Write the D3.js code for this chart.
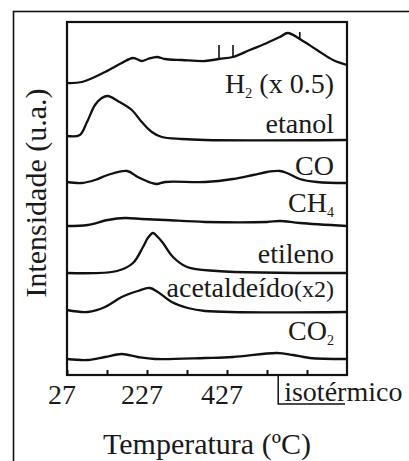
<!DOCTYPE html>
<html>
<head>
<meta charset="utf-8">
<script src="https://cdn.jsdelivr.net/npm/d3@7"></script>
<style>
  body { margin: 0; background: #fff; }
</style>
</head>
<body>
<svg id="chart" width="409" height="461"></svg>
<script>
// temperatures (°C) and relative intensities (u.a.)
var h2 = [[27,0],[64,1],[122,11],[164,20],[192,25],[214,22],[229,24],[252,26],[272,24],[314,23],[372,22],
  [407,24],[442,26],[484,33],[527,40],[559,46],[579,50],[609,44],[652,33],[692,23],[727,18]];
var h2Marks = [[407,24,38],[442,26,38],[609,44,51]];
var etanol = [[27,4],[59,5],[77,18],[97,35],[114,42],[129,44],[154,39],[189,30],[214,18],[239,8],[264,3],[314,1],[372,0],[727,0]];
var co = [[27,1],[64,0],[97,3],[129,8],[177,12],[204,6],[239,0],[252,-1],[272,1],[372,1],[442,4],[492,8],[527,11],[559,12],[577,10],[609,4],[652,1],[727,0]];
var ch4 = [[27,0],[79,1],[129,6],[172,8],[214,7],[272,6],[372,4],[527,4],[559,5],[609,3],[727,0]];
var etileno = [[27,0],[152,2],[192,10],[217,26],[229,35],[242,40],[254,36],[267,30],[292,16],[327,6],[402,2],[727,0]];
var acetaldeido = [[27,1],[79,-1],[122,4],[164,14],[204,20],[234,23],[254,19],[289,9],[329,3],[372,0],[727,-1]];
var co2 = [[27,0],[79,-1],[122,2],[164,5],[204,2],[247,0],[372,1],[442,2],[552,6],[592,4],[634,1],[727,0]];

var seriesNames = ["H2", "etanol", "CO", "CH4", "etileno", "acetaldeido", "CO2"];
var seriesData = [h2, etanol, co, ch4, etileno, acetaldeido, co2];
var seriesOffsets = [292, 235, 192, 149, 102, 64, 16];
var tickValues = [27, 127, 227, 327, 427, 527, 627];
var tickLabels = [27, 227, 427];
var isothermStart = 555;

var serif = '"Liberation Serif", "Times New Roman", serif';

var svg = d3.select('#chart');

var plot = {left: 67, right: 347, top: 22, bottom: 375};

var x = d3.scaleLinear().domain([27, 727]).range([plot.left, plot.right]);
var y = d3.scaleLinear().domain([0, 353]).range([plot.bottom, plot.top]);

// outer frame (runs off the page right and bottom)
svg.append('rect')
  .attr('x', 13.5).attr('y', 11.5)
  .attr('width', 420).attr('height', 480)
  .attr('fill', 'none').attr('stroke', '#111').attr('stroke-width', 1.6);

// traces
var line = d3.line().curve(d3.curveCatmullRom.alpha(0.5));
seriesData.forEach(function(s, i) {
  var off = seriesOffsets[i];
  svg.append('path')
    .attr('class', 'trace ' + seriesNames[i])
    .attr('d', line(s.map(function(d) { return [x(d[0]), y(off + d[1])]; })))
    .attr('fill', 'none')
    .attr('stroke', '#111')
    .attr('stroke-width', 2.3);
});

// small vertical marks on the H2 trace
svg.selectAll('line.mark')
  .data(h2Marks)
  .enter().append('line')
  .attr('class', 'mark')
  .attr('x1', function(d) { return x(d[0]); })
  .attr('x2', function(d) { return x(d[0]); })
  .attr('y1', function(d) { return y(seriesOffsets[0] + d[1]); })
  .attr('y2', function(d) { return y(seriesOffsets[0] + d[2]); })
  .attr('stroke', '#111').attr('stroke-width', 1.6);

// plot box
svg.append('rect')
  .attr('x', plot.left).attr('y', plot.top)
  .attr('width', plot.right - plot.left).attr('height', plot.bottom - plot.top)
  .attr('fill', 'none').attr('stroke', '#111').attr('stroke-width', 2.2);

// ticks pointing inward
var xAxis = d3.axisBottom(x).tickValues(tickValues).tickSize(-5).tickFormat('');
svg.append('g')
  .attr('transform', 'translate(0,' + plot.bottom + ')')
  .call(xAxis)
  .call(function(g) { g.select('.domain').remove(); })
  .selectAll('line').attr('stroke', '#111').attr('stroke-width', 2);

svg.selectAll('text.ticklabel')
  .data(tickLabels)
  .enter().append('text')
  .attr('class', 'ticklabel')
  .attr('x', function(d) { return x(d) - 5; })
  .attr('y', 404)
  .attr('text-anchor', 'middle')
  .attr('fill', '#1a1a1a')
  .attr('font-family', serif)
  .attr('font-size', 28)
  .text(function(d) { return d; });

// isothermal bracket
var xi = x(isothermStart);
svg.append('path')
  .attr('d', 'M' + xi + ',' + plot.bottom + 'V' + 404 + 'H' + (plot.right - 2))
  .attr('fill', 'none').attr('stroke', '#111').attr('stroke-width', 1.5);
svg.append('text')
  .attr('x', xi + 6).attr('y', 401)
  .attr('fill', '#1a1a1a')
  .attr('font-family', serif)
  .attr('font-size', 28)
  .text('isotérmico');

// series labels
var labelY = [93, 133, 175, 212, 263, 297, 340];
var labelX = 334;
function addLabel(i, parts) {
  var t = svg.append('text')
    .attr('x', labelX).attr('y', labelY[i])
    .attr('text-anchor', 'end')
    .attr('fill', '#1a1a1a')
    .attr('font-family', serif)
    .attr('font-size', 28);
  parts.forEach(function(p) {
    var ts = t.append('tspan').text(p.t);
    if (p.sub) ts.attr('dy', 5).attr('font-size', 14);
    if (p.back) ts.attr('dy', -5);
    if (p.size) ts.attr('font-size', p.size);
  });
}
addLabel(0, [{t: 'H'}, {t: '2', sub: true}, {t: ' (x 0.5)', back: true}]);
addLabel(1, [{t: 'etanol'}]);
addLabel(2, [{t: 'CO'}]);
addLabel(3, [{t: 'CH'}, {t: '4', sub: true}]);
addLabel(4, [{t: 'etileno'}]);
addLabel(5, [{t: 'acetaldeído'}, {t: '(x2)', size: 24}]);
addLabel(6, [{t: 'CO'}, {t: '2', sub: true}]);

// axis titles
svg.append('text')
  .attr('x', 207).attr('y', 454)
  .attr('text-anchor', 'middle')
  .attr('fill', '#1a1a1a')
  .attr('font-family', serif)
  .attr('font-size', 30)
  .text('Temperatura (ºC)');

svg.append('text')
  .attr('transform', 'translate(46,193) rotate(-90)')
  .attr('text-anchor', 'middle')
  .attr('fill', '#1a1a1a')
  .attr('font-family', serif)
  .attr('font-size', 30)
  .text('Intensidade (u.a.)');
</script>
</body>
</html>
